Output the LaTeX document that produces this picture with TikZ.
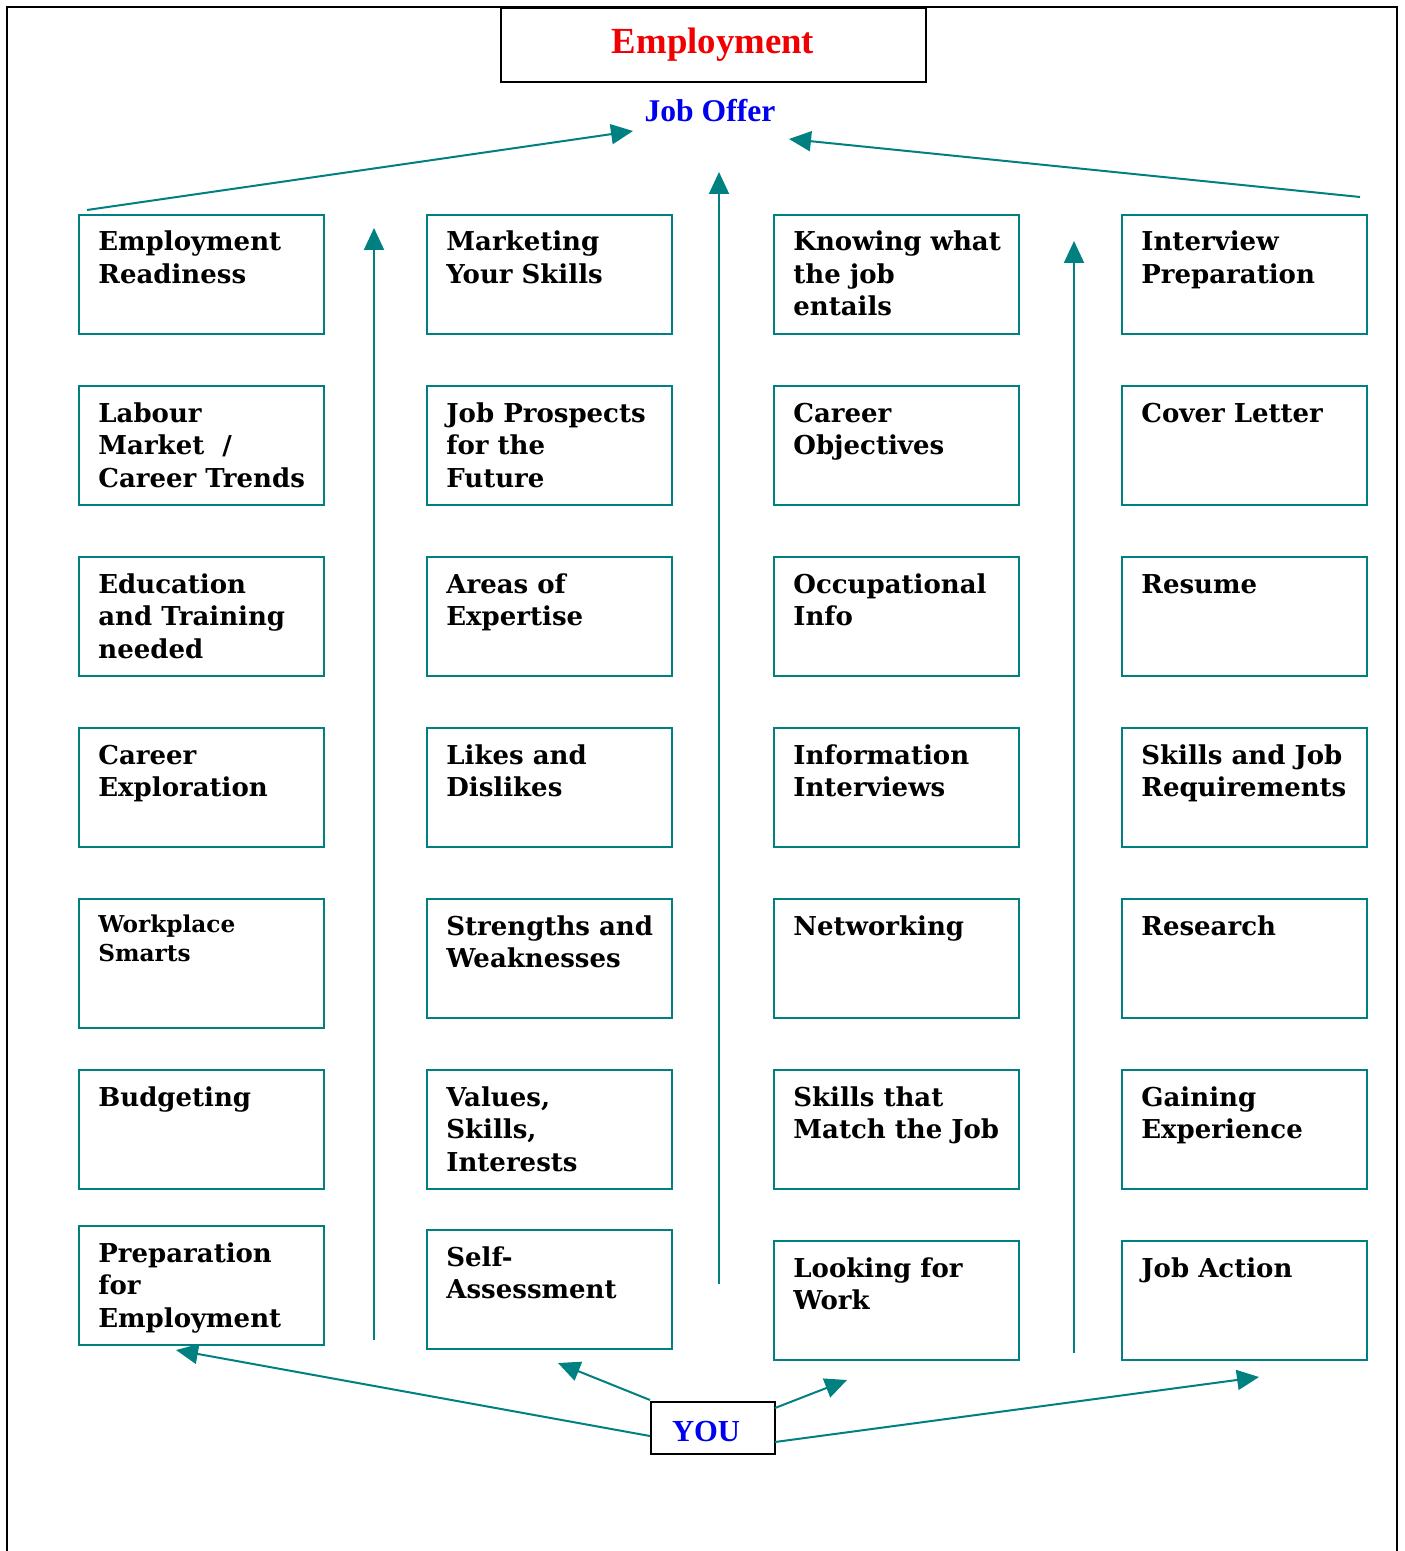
\documentclass[tikz,border=0pt]{standalone}
\usepackage{fontspec}
\usetikzlibrary{arrows.meta}
\newfontfamily\boxfont{DejaVu Serif}
\newfontfamily\titlefont{Liberation Serif}
\definecolor{tealc}{RGB}{0,128,128}
\definecolor{titlered}{RGB}{240,0,0}
\definecolor{titleblue}{RGB}{0,0,240}
\tikzset{
  card/.style={draw=tealc, line width=1pt, rectangle, anchor=north west, inner sep=0pt, minimum width=122.5pt, minimum height=59.5pt},
  cardtext/.style={anchor=base west, align=left, inner sep=0pt, font=\boxfont\bfseries\fontsize{13}{16.25}\selectfont},
  smalltext/.style={anchor=base west, align=left, inner sep=0pt, font=\boxfont\bfseries\fontsize{11.6}{14.5}\selectfont},
  arr/.style={draw=tealc, line width=1pt, -{Triangle[length=11pt,width=10pt]}, shorten >=0pt},
}
\newcommand{\cardlabel}[3]{\node[#1] at ([xshift=10pt,yshift=-18.5pt]#2.north west) {\parbox[t]{110pt}{\raggedright #3}};}
\begin{document}
\begin{tikzpicture}[x=0.5pt,y=-0.5pt]
\useasboundingbox (0,0) rectangle (1404,1551);
% outer frame
\draw[line width=1.2pt] (7,1551) -- (7,7) -- (1397,7) -- (1397,1551);
% title
\node[draw, line width=1.2pt, anchor=north west, minimum width=212.5pt, minimum height=37pt, inner sep=0pt] (emp) at (500,7) {};
\node[anchor=base, inner sep=0pt, font=\titlefont\bfseries\fontsize{18.4}{20}\selectfont, text=titlered] (empt) at (713,54) {Employment};
\node[anchor=base, inner sep=0pt, font=\titlefont\bfseries\fontsize{15.8}{18}\selectfont, text=titleblue] (jo) at (710,122) {Job Offer};
% cards
\foreach \c/\x in {1/78,2/426,3/773,4/1121}{
  \foreach \r/\y in {1/214,2/385,3/556,4/727,5/898,6/1069}{
    \ifnum\c\r=15\else
    \node[card] (b\c\r) at (\x,\y) {};
    \fi
  }
}
\node[card, minimum height=64.5pt] (b15) at (78,898) {};
\node[card] (b17) at (78,1225) {};
\node[card] (b27) at (426,1229) {};
\node[card] (b37) at (773,1240) {};
\node[card] (b47) at (1121,1240) {};
% texts
\cardlabel{cardtext}{b11}{Employment\\Readiness}
\cardlabel{cardtext}{b12}{Labour\\Market\ \ /\\Career Trends}
\cardlabel{cardtext}{b13}{Education\\and Training\\needed}
\cardlabel{cardtext}{b14}{Career\\Exploration}
\node[smalltext] at ([xshift=10pt,yshift=-17pt]b15.north west) {\parbox[t]{110pt}{\raggedright Workplace\\Smarts}};
\cardlabel{cardtext}{b16}{Budgeting}
\cardlabel{cardtext}{b17}{Preparation\\for\\Employment}
\cardlabel{cardtext}{b21}{Marketing\\Your Skills}
\cardlabel{cardtext}{b22}{Job Prospects\\for the\\Future}
\cardlabel{cardtext}{b23}{Areas of\\Expertise}
\cardlabel{cardtext}{b24}{Likes and\\Dislikes}
\cardlabel{cardtext}{b25}{Strengths and\\Weaknesses}
\cardlabel{cardtext}{b26}{Values,\\Skills,\\Interests}
\cardlabel{cardtext}{b27}{Self-\\Assessment}
\cardlabel{cardtext}{b31}{Knowing what\\the job\\entails}
\cardlabel{cardtext}{b32}{Career\\Objectives}
\cardlabel{cardtext}{b33}{Occupational\\Info}
\cardlabel{cardtext}{b34}{Information\\Interviews}
\cardlabel{cardtext}{b35}{Networking}
\cardlabel{cardtext}{b36}{Skills that\\Match the Job}
\cardlabel{cardtext}{b37}{Looking for\\Work}
\cardlabel{cardtext}{b41}{Interview\\Preparation}
\cardlabel{cardtext}{b42}{Cover Letter}
\cardlabel{cardtext}{b43}{Resume}
\cardlabel{cardtext}{b44}{Skills and Job\\Requirements}
\cardlabel{cardtext}{b45}{Research}
\cardlabel{cardtext}{b46}{Gaining\\Experience}
\cardlabel{cardtext}{b47}{Job Action}
% YOU
\node[draw, line width=1.2pt, anchor=north west, minimum width=62pt, minimum height=26pt, inner sep=0pt] (you) at (650,1401) {};
\node[anchor=base, inner sep=0pt, font=\titlefont\bfseries\fontsize{15.3}{18}\selectfont, text=titleblue] (yout) at (706,1441) {YOU};
% coordinates
\coordinate (tl0) at (87,210);
\coordinate (tl1) at (633,131);
\coordinate (tr0) at (1360,197);
\coordinate (tr1) at (789,139);
\coordinate (v10) at (374,1340); \coordinate (v11) at (374,228);
\coordinate (v20) at (719,1284); \coordinate (v21) at (719,172);
\coordinate (v30) at (1074,1353); \coordinate (v31) at (1074,241);
\coordinate (y1) at (650,1436); \coordinate (e1) at (176,1350);
\coordinate (y2) at (650,1400); \coordinate (e2) at (558,1363);
\coordinate (y3) at (775,1408); \coordinate (e3) at (847,1380);
\coordinate (y4) at (775,1442); \coordinate (e4) at (1259,1377);
% arrows
\draw[arr] (tl0) -- (tl1);
\draw[arr] (tr0) -- (tr1);
\draw[arr] (v10) -- (v11);
\draw[arr] (v20) -- (v21);
\draw[arr] (v30) -- (v31);
\draw[arr] (y1) -- (e1);
\draw[arr] (y2) -- (e2);
\draw[arr] (y3) -- (e3);
\draw[arr] (y4) -- (e4);
\end{tikzpicture}
\end{document}
